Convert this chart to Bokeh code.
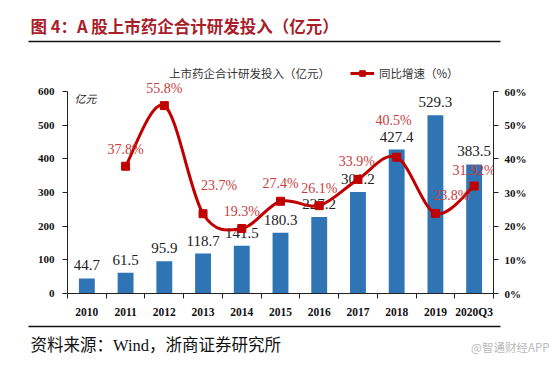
from bokeh.plotting import figure
from bokeh.layouts import column
from bokeh.models import (Range1d, LinearAxis, FixedTicker, Label, ColumnDataSource,
                          Legend, LegendItem)
from bokeh.core.properties import value
from bokeh.embed import file_html
from bokeh.resources import INLINE

# ---------------- data ----------------
categories = ["2010", "2011", "2012", "2013", "2014", "2015", "2016", "2017", "2018", "2019", "2020Q3"]
rd_invest = [44.7, 61.5, 95.9, 118.7, 141.5, 180.3, 227.2, 301.2, 427.4, 529.3, 383.5]
rd_labels = ["44.7", "61.5", "95.9", "118.7", "141.5", "180.3", "227.2", "301.2", "427.4", "529.3", "383.5"]
growth_pct = [None, 37.8, 55.8, 23.7, 19.3, 27.4, 26.1, 33.9, 40.5, 23.8, 31.92]
growth_labels = ["", "37.8%", "55.8%", "23.7%", "19.3%", "27.4%", "26.1%", "33.9%", "40.5%", "23.8%", "31.92%"]
left_ticks = [0, 100, 200, 300, 400, 500, 600]
right_ticks = [0, 10, 20, 30, 40, 50, 60]
right_tick_labels = ["0%", "10%", "20%", "30%", "40%", "50%", "60%"]

title_text = "图 4：A 股上市药企合计研发投入（亿元）"
source_text = "资料来源：Wind，浙商证券研究所"
legend_bar = "上市药企合计研发投入（亿元）"
legend_line = "同比增速（%）"
unit_text = "亿元"
watermark = "@智通财经APP"

# ---------------- style ----------------
BLUE = "#2F75B5"
RED = "#C00000"
RED_LBL = "#C83C3C"
TITLE_RED = "#A8202A"
SERIF = "Liberation Serif, Noto Sans CJK SC"
CJK = "Noto Sans CJK SC"

growth_dx = [0, 0, 0, 16, 0, 0, 0, -1, -3, 16, 0]
growth_dy = [0, -17, -17, -28, -17, -18, -17, -18, -37, -18, -16]

W = 554
HH, MH, FH = 50, 272, 43          # header / main / footer heights
FL, FR, FT, FB = 67, 61, 6, 29    # main frame borders
AXIS_PX = 202                     # pixel height of the 0..600 axis span
frame_h = MH - FT - FB
y_end = 600 * frame_h / AXIS_PX
pct_end = 60 * frame_h / AXIS_PX


def blank_fig(h):
    f = figure(width=W, height=h, output_backend="svg", toolbar_location=None,
               x_range=Range1d(0, W), y_range=Range1d(h, 0),
               min_border=0, min_border_left=0, min_border_right=0,
               min_border_top=0, min_border_bottom=0,
               x_axis_location=None, y_axis_location=None, frame_align=False,
               outline_line_color=None, background_fill_color="white", border_fill_color="white")
    f.grid.visible = False
    return f


# ---------------- header ----------------
header = blank_fig(HH)
header.text(x=[30], y=[25], text=[title_text], text_font=value(CJK), text_font_size="16.5px",
            text_font_style="bold", text_color=TITLE_RED, text_baseline="middle", text_align="left")
header.segment(x0=[28], y0=[41], x1=[500], y1=[41], line_color="#111111", line_width=1.6)

# ---------------- main chart ----------------
p = figure(width=W, height=MH, output_backend="svg", toolbar_location=None,
           x_range=Range1d(-0.5, len(categories) - 0.5), y_range=Range1d(0, y_end),
           min_border_left=FL, min_border_right=FR, min_border_top=FT, min_border_bottom=FB,
           frame_align=False,
           background_fill_color="white", border_fill_color="white", outline_line_color=None)
p.grid.visible = False
p.extra_y_ranges = {"pct": Range1d(0, pct_end)}

xs = list(range(len(categories)))

bar_src = ColumnDataSource(dict(x=xs, top=rd_invest, lbl=rd_labels))
p.vbar(x="x", top="top", width=0.41, source=bar_src, fill_color=BLUE, line_color=None)
p.text(x="x", y="top", text="lbl", source=bar_src, y_offset=-13,
       text_align="center", text_baseline="middle", text_color="#222222",
       text_font=value(SERIF), text_font_size="15px")

gx = [i for i, g in zip(xs, growth_pct) if g is not None]
gy = [g for g in growth_pct if g is not None]
n = len(gx)


def pt(k):
    k = max(0, min(n - 1, k))
    return gx[k], gy[k]


seg = dict(x0=[], y0=[], x1=[], y1=[], cx0=[], cy0=[], cx1=[], cy1=[])
for i in range(n - 1):
    xa_, ya_ = pt(i)
    xb_, yb_ = pt(i + 1)
    xm_, ym_ = pt(i - 1)
    xn_, yn_ = pt(i + 2)
    seg["x0"].append(xa_); seg["y0"].append(ya_)
    seg["x1"].append(xb_); seg["y1"].append(yb_)
    seg["cx0"].append(xa_ + (xb_ - xm_) / 6); seg["cy0"].append(ya_ + (yb_ - ym_) / 6)
    seg["cx1"].append(xb_ - (xn_ - xa_) / 6); seg["cy1"].append(yb_ - (yn_ - ya_) / 6)
curve = p.bezier(x0="x0", y0="y0", x1="x1", y1="y1", cx0="cx0", cy0="cy0", cx1="cx1", cy1="cy1",
                 source=ColumnDataSource(seg), line_color=RED, line_width=3, y_range_name="pct")
marks = p.scatter(x=gx, y=gy, marker="square", size=8, fill_color=RED,
                  line_color=RED, y_range_name="pct")

gl_src = ColumnDataSource(dict(x=gx, y=gy,
                               lbl=[l for l, g in zip(growth_labels, growth_pct) if g is not None],
                               dx=[d for d, g in zip(growth_dx, growth_pct) if g is not None],
                               dy=[d for d, g in zip(growth_dy, growth_pct) if g is not None]))
p.text(x="x", y="y", text="lbl", source=gl_src, x_offset="dx", y_offset="dy",
       text_align="center", text_baseline="middle", text_color=RED_LBL,
       text_font=value(SERIF), text_font_size="14px", y_range_name="pct")

# axes
xa = p.xaxis[0]
xa.ticker = FixedTicker(ticks=xs, minor_ticks=[i - 0.5 for i in range(len(categories) + 1)])
xa.major_label_overrides = {i: c for i, c in enumerate(categories)}
xa.major_tick_out = 0
xa.major_tick_in = 0
xa.minor_tick_out = 5
xa.minor_tick_in = 0
xa.major_label_standoff = 7
xa.axis_line_color = "#222222"
xa.minor_tick_line_color = "#222222"
xa.major_label_text_font = SERIF
xa.major_label_text_font_style = "bold"
xa.major_label_text_font_size = "11.5px"
xa.major_label_text_color = "#111111"

ya = p.yaxis[0]
ya.ticker = FixedTicker(ticks=left_ticks, minor_ticks=[])
ya.bounds = (0, 600)
ya.major_tick_out = 5
ya.major_tick_in = 0
ya.major_label_standoff = 8
ya.axis_line_color = "#222222"
ya.major_tick_line_color = "#222222"
ya.major_label_text_font = SERIF
ya.major_label_text_font_style = "bold"
ya.major_label_text_font_size = "11px"
ya.major_label_text_color = "#111111"

ra = LinearAxis(y_range_name="pct", ticker=FixedTicker(ticks=right_ticks, minor_ticks=[]), bounds=(0, 60))
ra.major_label_overrides = {t: l for t, l in zip(right_ticks, right_tick_labels)}
ra.major_tick_out = 5
ra.major_tick_in = 0
ra.major_label_standoff = 6
ra.axis_line_color = "#222222"
ra.major_tick_line_color = "#222222"
ra.major_label_text_font = SERIF
ra.major_label_text_font_style = "bold"
ra.major_label_text_font_size = "11px"
ra.major_label_text_color = "#111111"
p.add_layout(ra, "right")

lg_bar = p.line(x=[], y=[], line_color=BLUE, line_width=5)
legend = Legend(items=[LegendItem(label=legend_bar, renderers=[lg_bar]),
                       LegendItem(label=legend_line, renderers=[curve, marks])],
                orientation="horizontal", location=(73, 212),
                glyph_width=24, glyph_height=14, label_height=14, label_standoff=5, spacing=20,
                padding=0, margin=0, border_line_color=None, background_fill_alpha=0,
                label_text_font=CJK, label_text_font_size="11.5px", label_text_color="#333333")
p.add_layout(legend, "center")

p.add_layout(Label(x=-0.5, y=600, x_offset=7, y_offset=-6, text=unit_text,
                   text_font=CJK, text_font_size="11px", text_font_style="italic",
                   text_color="#222222", text_baseline="middle"))

# ---------------- footer ----------------
footer = blank_fig(FH)
footer.segment(x0=[28], y0=[4], x1=[500], y1=[4], line_color="#111111", line_width=1.6)
footer.text(x=[30], y=[23], text=[source_text], text_font=value(SERIF), text_font_size="16.5px",
            text_color="#111111", text_baseline="middle", text_align="left")
footer.text(x=[549], y=[24], text=[watermark], text_font=value(CJK), text_font_size="11.5px",
            text_color="#BBBBBB", text_baseline="middle", text_align="right")

layout = column(header, p, footer, spacing=0)
open("out.html", "w").write(file_html(layout, INLINE))
